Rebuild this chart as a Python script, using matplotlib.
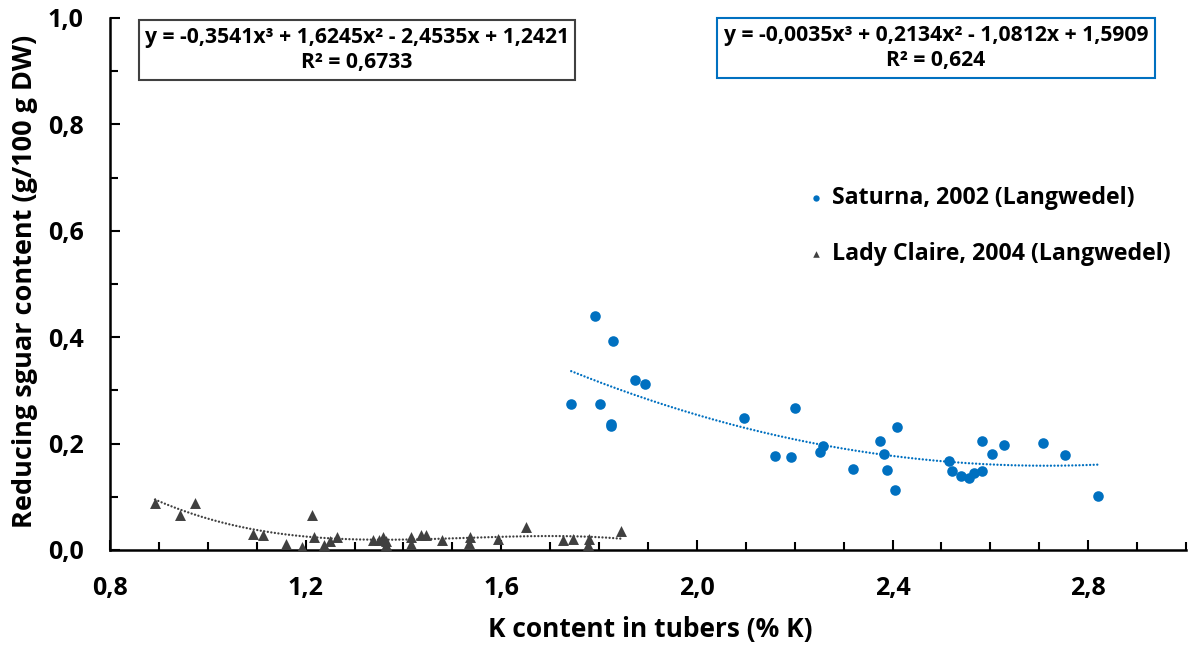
import matplotlib
matplotlib.use("Agg")
import matplotlib.pyplot as plt
import numpy as np
from matplotlib.ticker import MultipleLocator, FuncFormatter

plt.rcParams['font.family'] = ['Open Sans', 'DejaVu Sans']
plt.rcParams['font.weight'] = 'bold'

# Saturna, 2002 (Langwedel)
saturna_k = [1.743, 1.792, 1.829, 1.874, 1.894, 1.802, 1.824, 1.825, 2.096, 2.201,
             2.160, 2.192, 2.251, 2.257, 2.320, 2.375, 2.409, 2.382, 2.389, 2.406,
             2.516, 2.522, 2.539, 2.556, 2.567, 2.583, 2.582, 2.604, 2.628, 2.707,
             2.753, 2.820]
saturna_rs = [0.274, 0.439, 0.392, 0.320, 0.312, 0.274, 0.237, 0.233, 0.249, 0.267,
              0.177, 0.175, 0.184, 0.195, 0.152, 0.204, 0.232, 0.180, 0.150, 0.112,
              0.168, 0.148, 0.140, 0.136, 0.145, 0.148, 0.205, 0.180, 0.198, 0.202,
              0.179, 0.102]

# Lady Claire, 2004 (Langwedel)
lady_k = [0.892, 0.944, 0.973, 1.093, 1.113, 1.160, 1.193, 1.213, 1.217, 1.237,
          1.250, 1.264, 1.337, 1.351, 1.358, 1.365, 1.365, 1.415, 1.415, 1.436,
          1.446, 1.478, 1.533, 1.537, 1.594, 1.650, 1.727, 1.747, 1.780, 1.778,
          1.845]
lady_rs = [0.088, 0.066, 0.089, 0.030, 0.028, 0.011, 0.006, 0.066, 0.024, 0.009,
           0.017, 0.024, 0.019, 0.019, 0.024, 0.016, 0.009, 0.024, 0.011, 0.028,
           0.028, 0.019, 0.014, 0.025, 0.020, 0.044, 0.018, 0.020, 0.020, 0.009,
           0.036]

# Trendline coefficients as printed on the chart (x^3, x^2, x, const)
saturna_coef = [-0.0035, 0.2134, -1.0812, 1.5909]
saturna_r2 = "0,624"
lady_coef = [-0.3541, 1.6245, -2.4535, 1.2421]
lady_r2 = "0,6733"

labels = ["Saturna, 2002 (Langwedel)", "Lady Claire, 2004 (Langwedel)"]
blue = "#0070C0"
grey = "#404040"

fig = plt.figure(figsize=(11.92, 6.47), dpi=100)
ax = fig.add_axes([110/1192, 1-550/647, (1186-110)/1192, (550-18)/647])

ax.scatter(saturna_k, saturna_rs, s=58, color=blue, marker='o', zorder=3,
           label=labels[0], linewidths=0)
ax.scatter(lady_k, lady_rs, s=62, color=grey, marker='^', zorder=3,
           label=labels[1], linewidths=0)

dot = (0, (0.01, 1.5))
xs = np.linspace(min(saturna_k), max(saturna_k), 300)
ax.plot(xs, np.polyval(saturna_coef, xs), linestyle=dot, color=blue, lw=1.7,
        dash_capstyle='round', zorder=2)
xl = np.linspace(min(lady_k), max(lady_k), 300)
ax.plot(xl, np.polyval(lady_coef, xl), linestyle=dot, color=grey, lw=1.7,
        dash_capstyle='round', zorder=2)

ax.set_xlim(0.8, 3.0)
ax.set_ylim(0.0, 1.0)
ax.xaxis.set_major_locator(MultipleLocator(0.4))
ax.xaxis.set_minor_locator(MultipleLocator(0.1))
ax.yaxis.set_major_locator(MultipleLocator(0.2))
ax.yaxis.set_minor_locator(MultipleLocator(0.1))
fmt = FuncFormatter(lambda v, p: f"{v:.1f}".replace('.', ','))
ax.xaxis.set_major_formatter(fmt)
ax.yaxis.set_major_formatter(fmt)
ax.tick_params(which='major', direction='in', length=7, width=1.5, labelsize=18, pad=19)
ax.tick_params(which='minor', direction='in', length=5.5, width=1.5)
for lab in ax.get_xticklabels() + ax.get_yticklabels():
    lab.set_fontweight('bold')
for s in ['top', 'right']:
    ax.spines[s].set_visible(False)
for s in ['left', 'bottom']:
    ax.spines[s].set_linewidth(1.8)

fig.text(650/1192, 1-630/647, "K content in tubers (% K)", ha='center', va='center',
         fontsize=19, fontweight='bold')
fig.text(25/1192, 1-281/647, "Reducing sguar content (g/100 g DW)", ha='center', va='center',
         rotation=90, fontsize=19.5, fontweight='bold')

def eq_text(c, r2):
    def num(v):
        return f"{abs(v):.4f}".replace('.', ',')
    s = f"y = {'-' if c[0] < 0 else ''}{num(c[0])}x³"
    s += f" {'-' if c[1] < 0 else '+'} {num(c[1])}x²"
    s += f" {'-' if c[2] < 0 else '+'} {num(c[2])}x"
    s += f" {'-' if c[3] < 0 else '+'} {num(c[3])}"
    return s + f"\nR² = {r2}"

fig.text(357/1192, 1-50/647, eq_text(lady_coef, lady_r2), ha='center', va='center',
         fontsize=15.2, fontweight='bold', linespacing=1.3,
         bbox=dict(boxstyle='square,pad=0.3', fc='white', ec='#404040', lw=1.5))
fig.text(936/1192, 1-48/647, eq_text(saturna_coef, saturna_r2), ha='center', va='center',
         fontsize=15.2, fontweight='bold', linespacing=1.3,
         bbox=dict(boxstyle='square,pad=0.3', fc='white', ec=blue, lw=1.5))

leg = ax.legend(loc='upper left', bbox_to_anchor=(795/1192, 1-177/647),
                bbox_transform=fig.transFigure, frameon=False, fontsize=16.7,
                handletextpad=0.2, labelspacing=1.35, markerscale=0.6,
                handlelength=1.0, borderaxespad=0)
for t in leg.get_texts():
    t.set_fontweight('bold')

fig.savefig("out.png", dpi=100)
